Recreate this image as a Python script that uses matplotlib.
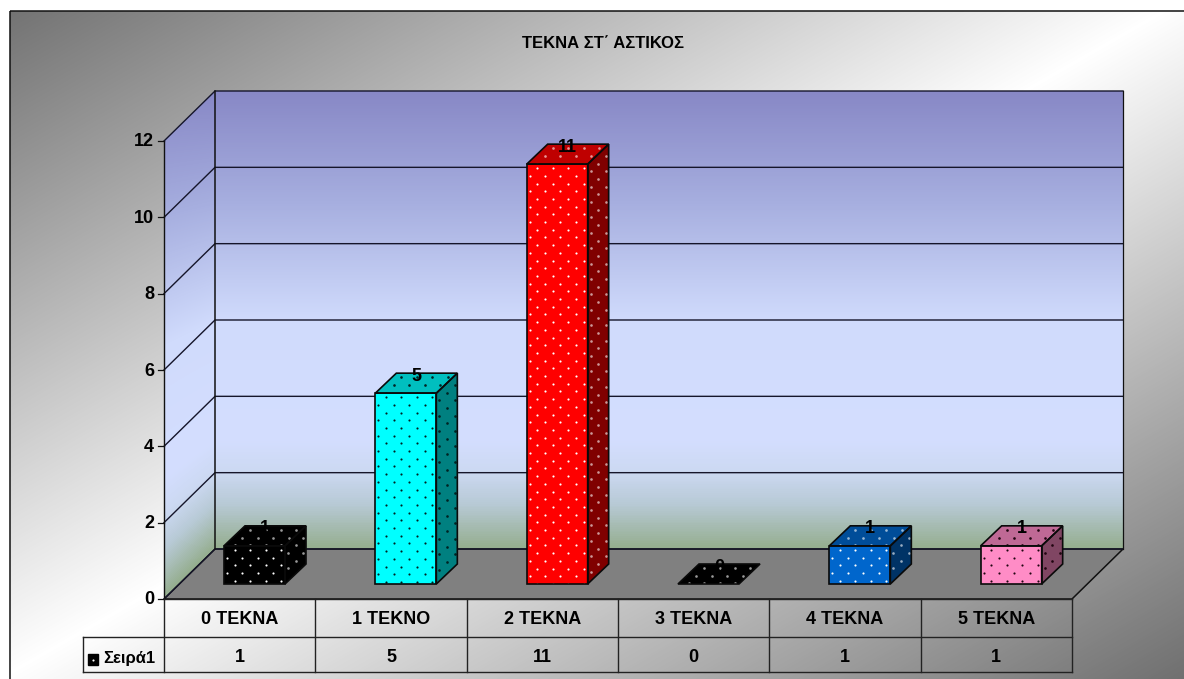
import numpy as np
import matplotlib as mpl
mpl.use('Agg')
import matplotlib.pyplot as plt
from matplotlib.colors import LinearSegmentedColormap
from matplotlib.patches import Polygon, Rectangle

title = 'ΤΕΚΝΑ ΣΤ΄ ΑΣΤΙΚΟΣ'
categories = ['0 ΤΕΚΝΑ', '1 ΤΕΚΝΟ', '2 ΤΕΚΝΑ', '3 ΤΕΚΝΑ', '4 ΤΕΚΝΑ', '5 ΤΕΚΝΑ']
values = [1, 5, 11, 0, 1, 1]
series_name = 'Σειρά1'
y_ticks = [0, 2, 4, 6, 8, 10, 12]

front_colors = ['#000000', '#00FFFF', '#FF0000', '#000000', '#0066CC', '#FF8CC6']
dot_colors = ['#FFFFFF', '#002222', '#FFFFFF', '#FFFFFF', '#FFFFFF', '#200510']

W, H = 1184, 679
X0, X1 = 164, 1072       # front edge of the plot
DX, DY = 51, 50          # depth of the box
Y0, Y12 = 599, 141       # front y of 0 and 12
BAR_DX, BAR_DY = 21, 20
BAR_W = 61
BAR_PAD = 60
BAR_BASE = 15            # bars stand this far behind the front edge
FONT = 'Liberation Sans'
FS = 13


def y_front(v):
  return Y0 + (Y12 - Y0) * v / y_ticks[-1]


def y_back(v):
  return y_front(v) - DY


def shade(color, f):
  return tuple(np.array(mpl.colors.to_rgb(color)) * f)


def blend(a, b, t):
  return tuple(np.array(mpl.colors.to_rgb(a)) * (1 - t) + np.array(mpl.colors.to_rgb(b)) * t)


def dim_dot(dot, face):
  # white dots fade on the shaded faces, dark dots stay dark
  if sum(mpl.colors.to_rgb(dot)) > 1.5:
    return blend(dot, face, 0.4)
  return dot


fig = plt.figure(figsize=(W / 100, H / 100), dpi=100)
ax = fig.add_axes([0, 0, 1, 1])
ax.set_xlim(0, W)
ax.set_ylim(H, 0)
ax.axis('off')

# background: grey corners, white along the other diagonal
xx, yy = np.meshgrid(np.arange(W) + 0.5, np.arange(H) + 0.5)
diag = np.abs((xx / W + yy / H) / 2 - 0.5) * 2
bg_cmap = LinearSegmentedColormap.from_list('bg', ['#FFFFFF', '#707070'])
im = ax.imshow(diag, cmap=bg_cmap, extent=(0, W, H, 0), aspect='auto', vmin=0, vmax=1, zorder=0)
frame = Rectangle((9.5, 10.5), W, H, facecolor='none', edgecolor='#111111', lw=1.1, zorder=1)
ax.add_patch(frame)
im.set_clip_path(frame)

# walls
stops = [(91, '#8888C6'), (200, '#A6AEDF'), (320, '#D0DBFC'), (440, '#D4DEFF'),
         (473, '#CCD9F2'), (505, '#B8CAD6'), (549, '#95AE8F')]
wall_cmap = LinearSegmentedColormap.from_list(
  'wall', [((y - 91) / (549 - 91), c) for y, c in stops])
back_top, back_bottom = y_back(y_ticks[-1]), y_back(0)
grad_x, grad_y = np.meshgrid(np.arange(X0, X1 + DX), np.arange(back_top, Y0 + 1))
shear = np.clip(X0 + DX - grad_x, 0, None) * DY / DX * (grad_y - back_top) / (Y0 - back_top)
wall_img = ax.imshow(grad_y - shear, cmap=wall_cmap, vmin=back_top, vmax=back_bottom,
                     extent=(X0, X1 + DX, Y0, back_top), aspect='auto', zorder=1)
wall_shape = Polygon([(X0, y_front(12)), (X0 + DX, back_top), (X1 + DX, back_top),
                      (X1 + DX, back_bottom), (X0 + DX, back_bottom), (X0, Y0)],
                     closed=True, transform=ax.transData, facecolor='none', edgecolor='none')
ax.add_patch(wall_shape)
wall_img.set_clip_path(wall_shape)

# floor
ax.add_patch(Polygon([(X0, Y0), (X0 + DX, back_bottom), (X1 + DX, back_bottom), (X1, Y0)],
                     facecolor='#808080', edgecolor='#111111', lw=1.1, zorder=2))

# grid
for v in y_ticks:
  ax.plot([X0, X0 + DX, X1 + DX], [y_front(v), y_back(v), y_back(v)], color='#15152A', lw=1.0, zorder=2)
  ax.plot([X0 - 6, X0], [y_front(v), y_front(v)], color='#111111', lw=0.9, zorder=2)
  ax.text(X0 - 10, y_front(v) + 1, str(v), ha='right', va='center', fontsize=FS,
          fontweight='bold', family=FONT, color='black', zorder=6)
ax.plot([X0, X0], [y_front(12), Y0], color='#111111', lw=1, zorder=2)
ax.plot([X0 + DX, X0 + DX], [back_top, back_bottom], color='#111111', lw=1.1, zorder=2)
ax.plot([X1 + DX, X1 + DX], [back_top, back_bottom], color='#111111', lw=0.9, zorder=2)


def dotted(points, face, dot, size=2.4):
  poly = Polygon(points, facecolor=face, edgecolor='none', zorder=3)
  ax.add_patch(poly)
  pts = np.array(points)
  xs, ys = [], []
  for r, y in enumerate(np.arange(pts[:, 1].min() + 4, pts[:, 1].max(), 7.7)):
    start = pts[:, 0].min() + (3 if r % 2 else 10.7)
    for x in np.arange(start, pts[:, 0].max(), 15.4):
      xs.append(x)
      ys.append(y)
  sc = ax.scatter(xs, ys, s=size, color=[dot], linewidths=0, zorder=3.1)
  sc.set_clip_path(poly)
  ax.add_patch(Polygon(points, facecolor='none', edgecolor='#0A0A0A', lw=1.2,
                       joinstyle='miter', zorder=3.2))


# bars
cat_w = (X1 - X0) / len(categories)
for i, v in enumerate(values):
  left = X0 + i * cat_w + BAR_PAD
  right = left + BAR_W
  base = Y0 - BAR_BASE
  top = base + y_front(v) - Y0
  c, d = front_colors[i], dot_colors[i]
  top_face, side_face = shade(c, 0.75), shade(c, 0.5)
  dotted([(left, top), (left + BAR_DX, top - BAR_DY), (right + BAR_DX, top - BAR_DY), (right, top)],
         top_face, dim_dot(d, top_face), size=3.6)
  if v > 0:
    dotted([(right, top), (right + BAR_DX, top - BAR_DY), (right + BAR_DX, base - BAR_DY), (right, base)],
           side_face, dim_dot(d, side_face), size=3.6)
    dotted([(left, top), (right, top), (right, base), (left, base)], c, d)
  ax.text(left + 41, top - BAR_DY + 3, str(v), ha='center', va='center', fontsize=FS,
          fontweight='bold', family=FONT, color='black', zorder=5)

# data table
row_a, row_b, row_c = Y0, 637, 671.5
table_left = 83
table_kw = dict(color='#222222', lw=1, zorder=4)
ax.plot([X0, X1], [row_a, row_a], **table_kw)
ax.plot([table_left, X1], [row_b, row_b], **table_kw)
ax.plot([table_left, X1], [row_c, row_c], **table_kw)
ax.plot([table_left, table_left], [row_b, row_c], **table_kw)
for i in range(len(categories) + 1):
  ax.plot([X0 + i * cat_w] * 2, [row_a, row_c], **table_kw)
for i, (cat, v) in enumerate(zip(categories, values)):
  cx = X0 + (i + 0.5) * cat_w
  ax.text(cx, 619, cat, ha='center', va='center', fontsize=FS,
          fontweight='bold', family=FONT, zorder=6)
  ax.text(cx, 658, str(v), ha='center', va='center', fontsize=FS,
          fontweight='bold', family=FONT, zorder=6)

# legend key in the table
ax.add_patch(Rectangle((88, 654), 10, 11, facecolor='black', edgecolor='black', zorder=5))
ax.scatter([93], [659.5], s=2.4, color='white', linewidths=0, zorder=6)
ax.text(103, 658, series_name, ha='left', va='center', fontsize=FS - 1,
        fontweight='bold', family=FONT, zorder=6)

ax.text(603.5, 43, title, ha='center', va='center', fontsize=12, fontweight='bold',
        family=FONT, zorder=6)

fig.savefig('out.png', dpi=100)
